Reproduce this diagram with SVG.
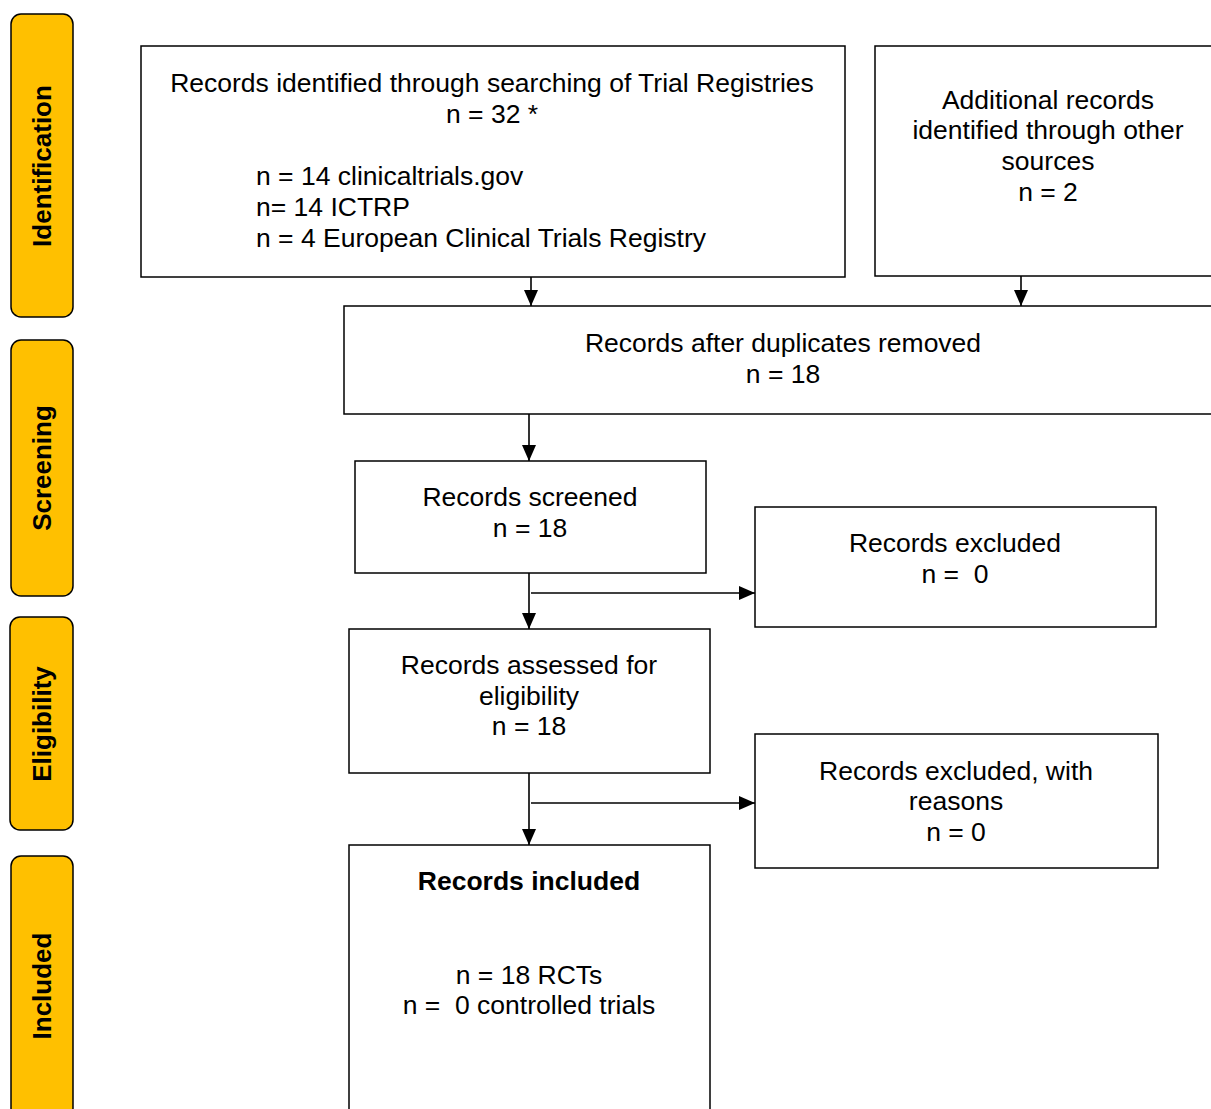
<svg xmlns="http://www.w3.org/2000/svg" width="1211" height="1109" viewBox="0 0 1211 1109">
<defs>
<style>
.box{fill:#fff;stroke:#000;stroke-width:1.5}
.side{fill:#FFC000;stroke:#000;stroke-width:1.5}
.t{font-family:"Liberation Sans",Arial,sans-serif;font-size:26.5px;fill:#000}
.c{text-anchor:middle}
.s{font-family:"Liberation Sans",Arial,sans-serif;font-size:26px;font-weight:bold;fill:#000;text-anchor:middle}
.ln{stroke:#000;stroke-width:1.6;fill:none}
</style>
<marker id="ah" markerWidth="16" markerHeight="14" refX="16" refY="7" orient="auto" markerUnits="userSpaceOnUse">
<path d="M0,0 L16,7 L0,14 Z" fill="#000"/>
</marker>
</defs>
<rect width="1211" height="1109" fill="#fff"/>
<g id="phase-identification"><rect class="side" x="11" y="14" width="62" height="303" rx="10"/><text class="s" transform="translate(51,166) rotate(-90)">Identification</text></g>
<g id="phase-screening"><rect class="side" x="11" y="340" width="62" height="256" rx="10"/><text class="s" transform="translate(51,468) rotate(-90)">Screening</text></g>
<g id="phase-eligibility"><rect class="side" x="10" y="617" width="63" height="213" rx="10"/><text class="s" transform="translate(51,724) rotate(-90)">Eligibility</text></g>
<g id="phase-included"><rect class="side" x="11" y="856" width="62" height="262" rx="10"/><text class="s" transform="translate(51,986) rotate(-90)">Included</text></g>

<g id="connectors">
<line class="ln" x1="531" y1="277" x2="531" y2="306" marker-end="url(#ah)"/>
<line class="ln" x1="1021" y1="276" x2="1021" y2="306" marker-end="url(#ah)"/>
<line class="ln" x1="529" y1="414" x2="529" y2="461" marker-end="url(#ah)"/>
<line class="ln" x1="529" y1="573" x2="529" y2="629" marker-end="url(#ah)"/>
<line class="ln" x1="531" y1="593" x2="755" y2="593" marker-end="url(#ah)"/>
<line class="ln" x1="529" y1="773" x2="529" y2="845" marker-end="url(#ah)"/>
<line class="ln" x1="531" y1="803" x2="755" y2="803" marker-end="url(#ah)"/>
</g>

<g id="registries"><rect class="box" x="141" y="46" width="704" height="231"/>
<text class="t c" x="492" y="92">Records identified through searching of Trial Registries</text>
<text class="t c" x="492" y="123">n = 32 *</text>
<text class="t" x="256" y="185">n = 14 clinicaltrials.gov</text>
<text class="t" x="256" y="216">n= 14 ICTRP</text>
<text class="t" x="256" y="247">n = 4 European Clinical Trials Registry</text></g>

<g id="additional"><rect class="box" x="875" y="46" width="345" height="230"/>
<text class="t c" x="1048" y="109">Additional records</text>
<text class="t c" x="1048" y="139">identified through other</text>
<text class="t c" x="1048" y="170">sources</text>
<text class="t c" x="1048" y="201">n = 2</text></g>

<g id="duplicates"><rect class="box" x="344" y="306" width="876" height="108"/>
<text class="t c" x="783" y="352">Records after duplicates removed</text>
<text class="t c" x="783" y="383">n = 18</text></g>

<g id="screened"><rect class="box" x="355" y="461" width="351" height="112"/>
<text class="t c" x="530" y="506">Records screened</text>
<text class="t c" x="530" y="537">n = 18</text></g>

<g id="excluded"><rect class="box" x="755" y="507" width="401" height="120"/>
<text class="t c" x="955" y="552">Records excluded</text>
<text class="t c" x="955" y="583" xml:space="preserve">n =  0</text></g>

<g id="assessed"><rect class="box" x="349" y="629" width="361" height="144"/>
<text class="t c" x="529" y="674">Records assessed for</text>
<text class="t c" x="529" y="705">eligibility</text>
<text class="t c" x="529" y="735">n = 18</text></g>

<g id="excluded-reasons"><rect class="box" x="755" y="734" width="403" height="134"/>
<text class="t c" x="956" y="780">Records excluded, with</text>
<text class="t c" x="956" y="810">reasons</text>
<text class="t c" x="956" y="841">n = 0</text></g>

<g id="included"><rect class="box" x="349" y="845" width="361" height="275"/>
<text class="t c" x="529" y="890" font-weight="bold">Records included</text>
<text class="t c" x="529" y="984">n = 18 RCTs</text>
<text class="t c" x="529" y="1014" xml:space="preserve">n =  0 controlled trials</text></g>
</svg>
